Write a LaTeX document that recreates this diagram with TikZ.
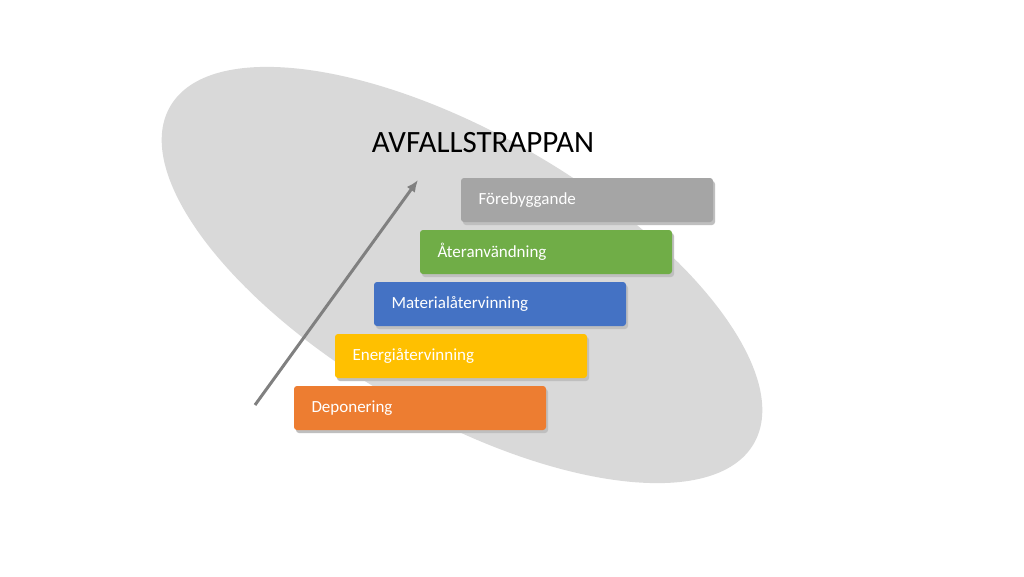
\documentclass[tikz,border=0pt]{standalone}
\usepackage{fontspec}
\usetikzlibrary{arrows.meta}
\setmainfont{Carlito}
\definecolor{colD}{HTML}{ED7D31}
\definecolor{colE}{HTML}{FFC000}
\definecolor{colM}{HTML}{4472C4}
\definecolor{colA}{HTML}{70AD47}
\definecolor{colF}{HTML}{A5A5A5}
\begin{document}
\begin{tikzpicture}[x=1pt,y=-1pt]
\useasboundingbox (0,0) rectangle (1024,576);
\fill[white] (0,0) rectangle (1024,576);
\fill[gray!30] (462,275) ellipse[x radius=337,y radius=141,rotate=-30];
\node[font=\fontsize{31}{36}\selectfont] (title) at (483,143) {AVFALLSTRAPPAN};
\coordinate (a0) at (255,405);
\coordinate (a1) at (418,180);
\draw[-{Latex[length=12pt,width=10pt]},line width=3pt,color=black!50] (a0) -- (a1);
\foreach \nm/\xx/\yy/\kol/\txt in {d/294/386/colD/Deponering,e/335/334/colE/Energiåtervinning,m/374/282/colM/Materialåtervinning,a/420/230/colA/Återanvändning,f/461/178/colF/Förebyggande}{
  \fill[black!25,rounded corners=3pt] (\xx+2,\yy+3) rectangle ++(252,44);
  \fill[\kol,rounded corners=3pt] (\xx,\yy) rectangle ++(252,44);
  \node[text=white,anchor=west,font=\fontsize{17}{20}\selectfont] (\nm) at (\xx+14,\yy+22) {\txt};
}
\end{tikzpicture}
\end{document}
